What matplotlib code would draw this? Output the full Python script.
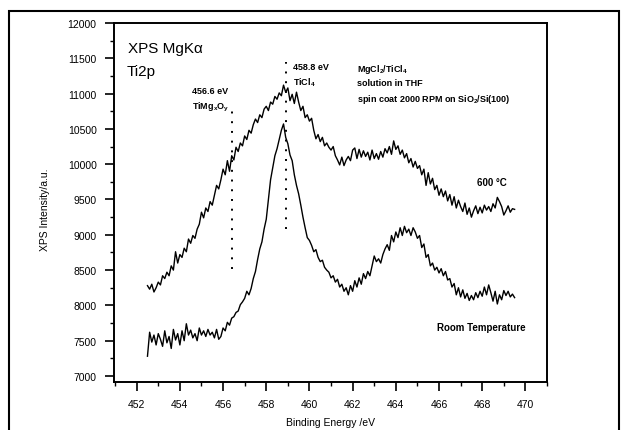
import numpy as np
import matplotlib
matplotlib.use("Agg")
import matplotlib.pyplot as plt
from matplotlib.patches import Rectangle
from matplotlib.ticker import MultipleLocator

plt.rcParams['font.family'] = ['Liberation Sans', 'DejaVu Sans']
plt.rcParams['mathtext.default'] = 'regular'

# ---- data ----
energy_start = 452.5
energy_step = 0.1

intensity_600C = [
    8280, 8230, 8300, 8190, 8250, 8330, 8290, 8420, 8380, 8470,
    8420, 8560, 8500, 8760, 8600, 8720, 8680, 8810, 8760, 8940,
    8880, 8990, 8950, 9080, 9150, 9320, 9240, 9380, 9330, 9470,
    9420, 9560, 9700, 9650, 9780, 9930, 9850, 10050, 9900, 10120,
    10060, 10240, 10180, 10300, 10260, 10400, 10350, 10480, 10440, 10560,
    10640, 10590, 10700, 10660, 10780, 10820, 10760, 10880, 10850, 10960,
    10920, 11010, 10970, 11120, 11020, 11080, 10900, 10990, 10860, 11020,
    10880, 10760, 10820, 10660, 10700, 10610, 10650, 10480, 10360, 10420,
    10320, 10380, 10260, 10300, 10240, 10200, 10250, 10120, 10060, 9990,
    10100, 9980, 10060, 10110, 10050, 10200, 10230, 10080, 10210, 10100,
    10190, 10110, 10170, 10060, 10200, 10080, 10150, 10070, 10180, 10100,
    10220, 10160, 10250, 10140, 10330, 10210, 10260, 10140, 10200, 10090,
    10150, 10020, 10080, 9960, 10040, 9940, 9980, 9850, 9930, 9700,
    9880, 9720, 9800, 9640, 9700, 9560, 9650, 9540, 9620, 9480,
    9570, 9420, 9540, 9380, 9490, 9400, 9330, 9450, 9290, 9380,
    9250, 9340, 9410, 9300, 9390, 9310, 9420, 9350, 9400, 9330,
    9440, 9380, 9530, 9470, 9400, 9280, 9340, 9410, 9320, 9370,
    9360,
]

intensity_RT = [
    7280, 7620, 7480, 7580, 7440, 7600, 7520, 7420, 7640, 7470,
    7560, 7390, 7660, 7510, 7600, 7440, 7640, 7500, 7740, 7580,
    7650, 7540, 7600, 7500, 7680, 7580, 7640, 7560, 7660, 7580,
    7620, 7540, 7660, 7520, 7560, 7680, 7640, 7760, 7720, 7820,
    7840, 7900, 7920, 8010, 8050, 8100, 8200, 8150, 8240, 8380,
    8480, 8650, 8800, 8900, 9080, 9220, 9500, 9780, 9950, 10120,
    10220, 10350, 10480, 10570, 10380, 10290, 10130, 10050, 9850, 9700,
    9580, 9420, 9250, 9100, 8960, 8920, 8850, 8760, 8790, 8680,
    8620, 8640, 8540, 8500, 8470, 8390, 8420, 8330, 8370, 8260,
    8300, 8200, 8250, 8150, 8280, 8200, 8350, 8260, 8390, 8300,
    8450, 8380, 8480, 8420, 8560, 8700, 8620, 8660, 8600, 8720,
    8800, 8860, 8780, 8990, 8900, 9040, 8960, 9100, 8990, 9120,
    9030, 9080, 8990, 9100, 9040, 8950, 8990, 8820, 8870, 8680,
    8720, 8560, 8600, 8500, 8540, 8460, 8520, 8420, 8480, 8360,
    8380, 8260, 8310, 8150, 8250, 8120, 8220, 8100, 8170, 8070,
    8140, 8080, 8180, 8110, 8200, 8130, 8260, 8150, 8290, 8180,
    8060, 8200, 8020, 8150, 8080, 8210, 8140, 8200, 8120, 8160,
    8110,
]

peak_TiMgO = 456.4   # dotted marker position
peak_TiCl4 = 458.9
x_ticks = [452, 454, 456, 458, 460, 462, 464, 466, 468, 470]
y_ticks = [7000, 7500, 8000, 8500, 9000, 9500, 10000, 10500, 11000, 11500, 12000]

energy = energy_start + energy_step * np.arange(len(intensity_600C))

# ---- figure ----
W, H = 621, 431
fig = plt.figure(figsize=(W / 100, H / 100), dpi=100)

def fx(px):
    return px / W

def fy(py):
    return 1 - py / H

ax = fig.add_axes([fx(114), fy(383), fx(547) - fx(114), fy(24) - fy(383)])

ax.plot(energy, intensity_600C, color='black', lw=1.0)
ax.plot(energy, intensity_RT, color='black', lw=1.0)

ax.vlines(peak_TiMgO, 8515, 10780, colors='black', linestyles=(0, (1, 4)), lw=1.4)
ax.vlines(peak_TiCl4, 9080, 11450, colors='black', linestyles=(0, (1, 4)), lw=1.4)

ax.set_xlim(450.95, 471.0)
ax.set_ylim(6915, 12000)
ax.set_xticks(x_ticks)
ax.set_xticklabels([str(t) for t in x_ticks])
ax.set_yticks(y_ticks)
ax.set_yticklabels([str(t) for t in y_ticks])
ax.xaxis.set_minor_locator(MultipleLocator(1))
ax.yaxis.set_minor_locator(MultipleLocator(250))
ax.tick_params(which='major', direction='out', length=6.5, width=1.2, labelsize=7.5, pad=6)
ax.tick_params(which='minor', direction='out', length=3, width=1.0)
for s in ax.spines.values():
    s.set_linewidth(1.4)

# annotations
def t(px, py, s, size=7, **kw):
    fig.text(fx(px), fy(py), s, fontsize=size, ha='left', va='center', **kw)

t(128, 49, 'XPS MgK\u03b1', size=11)
t(127, 72, 'Ti2p', size=11)
t(192, 92, '456.6 eV', size=6.5, fontweight='bold')
t(192, 107, 'TiMg$_x$O$_y$', size=6.5, fontweight='bold')
t(293, 68, '458.8 eV', size=6.5, fontweight='bold')
t(293, 83, 'TiCl$_4$', size=6.5, fontweight='bold')
t(357, 69, 'MgCl$_2$/TiCl$_4$', size=6.5, fontweight='bold')
t(357, 84, 'solution in THF', size=6.5, fontweight='bold')
t(357, 99, 'spin coat 2000 RPM on SiO$_2$/Si(100)', size=6.5, fontweight='bold')
t(477, 183, '600 \u00b0C', size=7, fontweight='bold')
t(437, 328, 'Room Temperature', size=7, fontweight='bold')

fig.text(fx(330), fy(423), 'Binding Energy /eV', fontsize=7.5, ha='center', va='center')
fig.text(fx(45), fy(210), 'XPS Intensity/a.u.', fontsize=7.5, ha='center', va='center', rotation=90)

# outer frame
fig.add_artist(Rectangle((fx(9), -0.01), fx(619) - fx(9), fy(12) + 0.01,
                         transform=fig.transFigure, fill=False, edgecolor='black', lw=1.5))

fig.savefig('out.png', dpi=100)
